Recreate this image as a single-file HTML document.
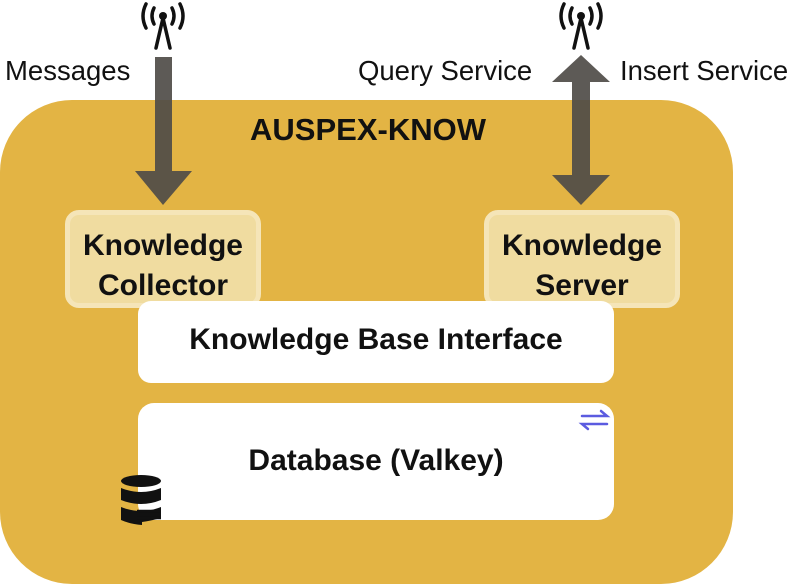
<!DOCTYPE html>
<html><head><style>
body{margin:0;width:797px;height:585px;background:#fff;position:relative;overflow:hidden;font-family:"Liberation Sans",Arial,sans-serif}
div{position:absolute;box-sizing:border-box}
.t{font-size:27.5px;color:#111;white-space:nowrap}
.b{font-weight:bold;color:#111;text-align:center;white-space:nowrap}
</style></head><body>
<div style="left:0;top:100px;width:733px;height:484px;background:#E3B444;border-radius:72px"></div>
<div class="t" style="left:5px;top:55px">Messages</div>
<div class="t" style="left:358px;top:55px">Query Service</div>
<div class="t" style="left:620px;top:55px">Insert Service</div>
<div class="b" style="left:180px;top:112px;width:376px;font-size:31px">AUSPEX-KNOW</div>
<div style="left:65px;top:210px;width:196px;height:98px;background:#F0DCA0;border:5px solid #F5E5B8;border-radius:14px"></div>
<div class="b" style="left:65px;top:226px;width:196px;font-size:30px;line-height:40px">Knowledge<br>Collector</div>
<div style="left:484px;top:210px;width:196px;height:98px;background:#F0DCA0;border:5px solid #F5E5B8;border-radius:14px"></div>
<div class="b" style="left:484px;top:226px;width:196px;font-size:30px;line-height:40px">Knowledge<br>Server</div>
<div style="left:138px;top:301px;width:476px;height:82px;background:#fff;border-radius:13px"></div>
<div class="b" style="left:138px;top:323px;width:476px;font-size:30px">Knowledge Base Interface</div>
<div style="left:138px;top:403px;width:476px;height:117px;background:#fff;border-radius:16px"></div>
<div class="b" style="left:138px;top:444px;width:476px;font-size:30px">Database (Valkey)</div>
<svg width="797" height="585" style="position:absolute;left:0;top:0">
<g fill="#4f4c48" fill-opacity="0.92">
<polygon points="155,57 172,57 172,171 192,171 163,205 135,171 155,171"/>
<polygon points="581,55 610,82 590,82 590,175 610,175 581,205 552,175 572,175 572,82 552,82"/>
</g>
<g stroke="#111" stroke-width="3.5" fill="none" stroke-linecap="round">
<g transform="translate(163,0)">
<line x1="0" y1="18" x2="-7" y2="48"/><line x1="0" y1="18" x2="7" y2="48"/>
<path d="M-9,8 Q-13,16 -9,24"/><path d="M9,8 Q13,16 9,24"/>
<path d="M-17,4 Q-23,16 -17,28"/><path d="M17,4 Q23,16 17,28"/>
</g>
<g transform="translate(581,0)">
<line x1="0" y1="18" x2="-7" y2="48"/><line x1="0" y1="18" x2="7" y2="48"/>
<path d="M-9,8 Q-13,16 -9,24"/><path d="M9,8 Q13,16 9,24"/>
<path d="M-17,4 Q-23,16 -17,28"/><path d="M17,4 Q23,16 17,28"/>
</g>
</g>
<circle cx="163" cy="16" r="4" fill="#111"/><circle cx="581" cy="16" r="4" fill="#111"/>
<g stroke="#5b5be0" stroke-width="2.5" fill="none" stroke-linecap="round">
<path d="M582,416 H607 L601,411"/><path d="M607,424 H582 L588,429"/>
</g>
<g fill="#111">
<ellipse cx="141" cy="481" rx="20" ry="6"/>
<path d="M121,488 Q141,496 161,488 V500 Q141,508 121,500Z"/>
<path d="M121,507 Q141,515 161,507 V518 Q150,521 142,522 V525 Q130,524 121,520Z"/>
</g>
<g stroke="#111" stroke-width="2.5"><line x1="137" y1="511" x2="161" y2="511"/><line x1="137" y1="518" x2="161" y2="518"/></g>
</svg>
</body></html>
